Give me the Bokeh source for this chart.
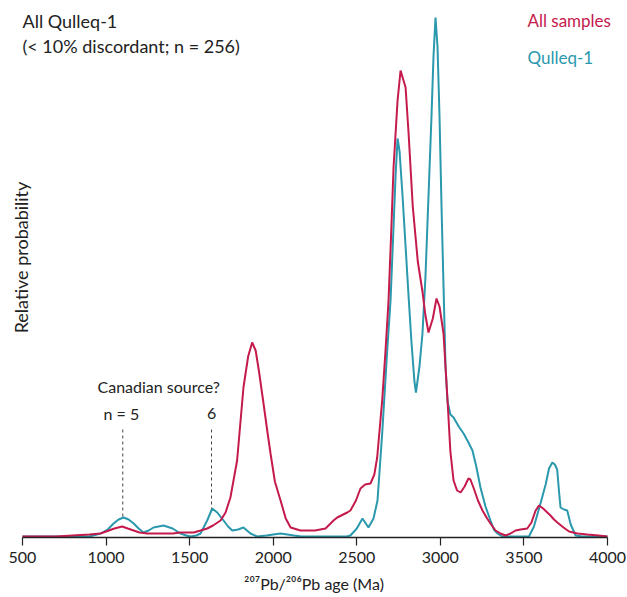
import math
from bokeh.plotting import figure
from bokeh.models import Label, FixedTicker
from bokeh.embed import file_html
from bokeh.resources import INLINE

# ---------------- data ----------------
all_age = [500, 700, 800, 900, 967, 1000, 1050, 1096, 1130, 1165, 1200, 1246, 1300, 1400,
           1445, 1524, 1565, 1605, 1640, 1685, 1715, 1744, 1784, 1822, 1850, 1874, 1895,
           1915, 1942, 1965, 1984, 2010, 2044, 2075, 2104, 2163, 2250, 2313, 2361, 2383,
           2443, 2462, 2495, 2522, 2550, 2582, 2605, 2622, 2652, 2672, 2690, 2705, 2720,
           2744, 2762, 2792, 2810, 2835, 2865, 2893, 2910, 2929, 2955, 2977, 2995, 3019,
           3043, 3060, 3079, 3100, 3121, 3145, 3168, 3180, 3198, 3225, 3252, 3280, 3300,
           3330, 3360, 3390, 3420, 3450, 3480, 3520, 3545, 3570, 3590, 3615, 3640, 3659,
           3680, 3700, 3737, 3770, 3821, 3880, 3946, 4000]
all_prob = [0, 0, 1, 2, 3, 5, 8, 10, 8, 6, 4, 3, 3, 3,
            4, 4, 6, 8, 11, 16, 24, 39, 76, 149, 180, 194, 186,
            165, 133, 105, 83, 55, 36, 18, 9, 6, 6, 8, 16, 19,
            24, 26, 36, 48, 52, 53, 62, 79, 136, 186, 236, 300, 369,
            436, 466, 449, 403, 330, 275, 245, 222, 204, 218, 238, 230, 203,
            136, 85, 56, 46, 44, 50, 58, 57, 49, 36, 26, 18, 13,
            6, 3, 1, 3, 6, 7, 8, 14, 26, 31, 28, 24, 21,
            17, 14, 9, 5, 3, 2, 1, 0]

qul_age = [500, 900, 967, 1010, 1045, 1075, 1105, 1135, 1165, 1195, 1224, 1255, 1284,
           1344, 1398, 1445, 1480, 1505, 1540, 1565, 1605, 1635, 1665, 1703, 1730, 1755,
           1790, 1822, 1864, 1904, 1960, 2000, 2044, 2085, 2124, 2170, 2250, 2400, 2440,
           2462, 2500, 2534, 2570, 2600, 2624, 2652, 2682, 2702, 2720, 2732, 2744, 2756,
           2774, 2792, 2810, 2827, 2845, 2854, 2863, 2875, 2893, 2911, 2929, 2947, 2959,
           2971, 2983, 2995, 3007, 3019, 3031, 3043, 3060, 3079, 3110, 3139, 3165, 3192,
           3215, 3240, 3270, 3300, 3320, 3342, 3370, 3450, 3530, 3560, 3599, 3630, 3650,
           3670, 3685, 3699, 3710, 3719, 3740, 3759, 3780, 3809, 3850, 4000]
qul_prob = [0, 0, 3, 7, 13, 17, 19, 17, 13, 8, 4, 6, 9,
            11, 8, 3, 1, 0, 1, 3, 16, 28, 24, 16, 10, 6,
            7, 9, 3, 0, 1, 2, 3, 2, 1, 0, 0, 0, 0,
            1, 8, 18, 9, 18, 36, 103, 186, 236, 310, 360, 398, 385,
            340, 290, 240, 195, 155, 144, 155, 170, 203, 260, 340, 420, 480,
            519, 490, 420, 330, 250, 170, 135, 122, 119, 110, 103, 95, 86,
            70, 49, 30, 16, 7, 3, 0, 0, 0, 10, 33, 52, 68,
            74, 72, 67, 45, 29, 27, 26, 12, 1, 0, 0]

x_ticks = [500, 1000, 1500, 2000, 2500, 3000, 3500, 4000]
marker_ages = [1100, 1631]
marker_tops = [19, 28]
marker_texts = ["n = 5", "6"]

RED = "#c41a4c"
TEAL = "#2a98ad"
INK = "#222222"
FONT = "Lato"

# ---------------- figure ----------------
W, H = 627, 597
p = figure(width=W, height=H, output_backend="svg", toolbar_location=None,
           x_range=(368.4, 4119.7), y_range=(-1, 536), y_axis_location=None,
           min_border_left=0, min_border_right=0, min_border_top=0,
           min_border_bottom=60)
p.outline_line_color = None
p.grid.visible = False
p.background_fill_color = "white"
p.border_fill_color = "white"

p.line(x=qul_age, y=qul_prob, line_color=TEAL, line_width=2)
p.line(x=all_age, y=all_prob, line_color=RED, line_width=2)

ax = p.xaxis[0]
ax.bounds = (500, 4000)
ax.ticker = FixedTicker(ticks=x_ticks)
ax.minor_tick_line_color = None
ax.major_tick_in = 0
ax.major_tick_out = 8
ax.axis_line_color = INK
ax.axis_line_width = 1.5
ax.major_tick_line_color = INK
ax.major_tick_line_width = 1.2
ax.major_label_text_font = FONT
ax.major_label_text_font_size = "16px"
ax.major_label_text_color = INK
ax.major_label_standoff = 6
ax.axis_label = "²⁰⁷Pb/²⁰⁶Pb age (Ma)"
ax.axis_label_text_font = FONT
ax.axis_label_text_font_size = "16px"
ax.axis_label_text_font_style = "normal"
ax.axis_label_text_color = INK
ax.axis_label_standoff = 8

def lab(x, y, t, color=INK, size="17px", align="left", baseline="middle", angle=0):
    p.add_layout(Label(x=x, y=y, text=t, text_color=color, text_font=FONT,
                       text_font_size=size, text_align=align,
                       text_baseline=baseline, angle=angle))

lab(500, 516, "All Qulleq-1", size="18px")
lab(500, 491, "(< 10% discordant; n = 256)", size="18px")
lab(3521, 516, "All samples", color=RED)
lab(3521, 479, "Qulleq-1", color=TEAL)
lab(949, 150, "Canadian source?", size="16px")
lab(985, 123, marker_texts[0], size="16px")
lab(marker_ages[1], 123, marker_texts[1], size="16px", align="center")
lab(494, 279, "Relative probability", size="18px", align="center", angle=math.pi / 2)

for a, top in zip(marker_ages, marker_tops):
    p.segment(x0=[a], y0=[107], x1=[a], y1=[top], line_color="#444444",
              line_width=1, line_dash="3 3")

open("out.html", "w").write(file_html(p, INLINE))
